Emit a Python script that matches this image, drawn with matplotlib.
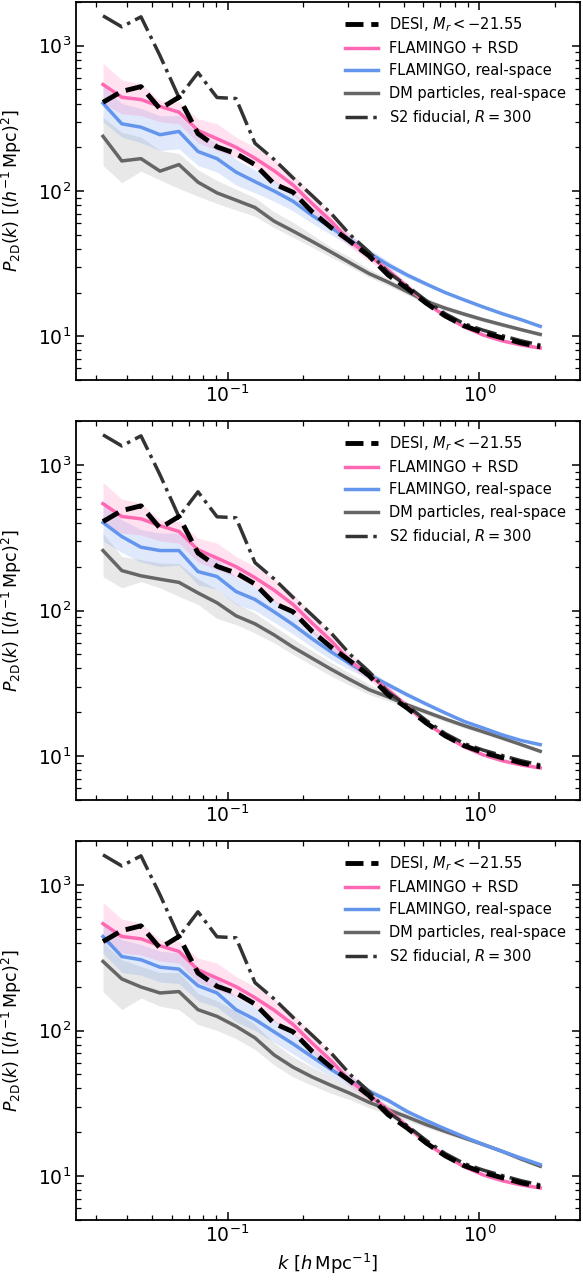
import matplotlib
matplotlib.use("Agg")
import matplotlib.pyplot as plt
import numpy as np

# k bins [h/Mpc]
k = [0.0320, 0.0380, 0.0453, 0.0539, 0.0641, 0.0763, 0.0908, 0.1080, 0.1285, 0.1530,
     0.1820, 0.2166, 0.2578, 0.3067, 0.3650, 0.4343, 0.5168, 0.6150, 0.7318, 0.8708,
     1.0362, 1.2330, 1.4672, 1.7459]

desi = [408, 485, 523, 368, 442, 248, 201, 181, 152, 112, 98, 72, 56, 45, 35.7, 26.4,
        21.4, 16.9, 13.8, 11.8, 10.6, 9.75, 9.0, 8.45]
s2 = [1607, 1349, 1581, 854, 440, 653, 440, 433, 213, 165, 123, 93, 70, 50, 38, 27.5,
      22.2, 17.6, 14.3, 12.2, 11.0, 10.1, 9.3, 8.7]
rsd = [541, 442, 426, 382, 349, 261, 229, 200, 168, 138, 110, 82, 62, 45, 36, 28.5,
       22, 16.9, 13.8, 11.6, 10.2, 9.3, 8.7, 8.3]
rsd_hi = [757, 582, 546, 420, 409, 314, 290, 235, 200, 165, 130, 95, 70, 50, 39, 30.5,
          23.2, 17.6, 14.2, 11.9, 10.4, 9.45, 8.8, 8.4]
rsd_lo = [400, 340, 330, 300, 290, 215, 190, 170, 145, 115, 95, 70, 54, 41, 33, 26.6,
          20.8, 16.2, 13.4, 11.3, 10.0, 9.15, 8.6, 8.2]

# panel 1
real_1 = [402, 290, 275, 244, 257, 187, 167, 135, 116, 100, 85, 68, 56, 46, 37.5, 31,
          26.4, 22.9, 20.0, 17.8, 15.9, 14.3, 13.0, 11.7]
real_1_hi = [530, 400, 370, 330, 330, 245, 215, 165, 140, 118, 98, 77, 62, 50, 40, 33,
             27.5, 23.6, 20.5, 18.2, 16.2, 14.5, 13.2, 11.9]
real_1_lo = [300, 235, 215, 190, 195, 150, 135, 110, 97, 85, 73, 60, 50, 42, 35, 29.5,
             25.3, 22.2, 19.5, 17.4, 15.6, 14.1, 12.8, 11.5]
dm_1 = [238, 161, 167, 137, 152, 115, 97, 86.5, 77, 62, 53, 45, 38, 32, 27, 23.6,
        20.3, 17.4, 15.6, 14.2, 13.0, 12.0, 11.1, 10.3]
dm_1_hi = [322, 254, 235, 190, 181, 140, 118, 103, 90, 72, 61, 50, 41, 35, 29, 25,
           21.5, 18.3, 16.3, 14.8, 13.5, 12.4, 11.4, 10.6]
dm_1_lo = [150, 114, 137, 119, 104, 92, 82, 74, 67, 56, 48, 41, 35, 30, 25.5, 22.3,
           19.3, 16.6, 15.0, 13.7, 12.6, 11.6, 10.8, 10.0]

# panel 2
real_2 = [402, 322, 272, 258, 258, 185, 171, 135, 119, 98, 80, 64, 52, 43, 36.2, 30.9,
          26.4, 22.8, 19.8, 17.3, 15.6, 14.0, 12.8, 12.0]
real_2_hi = [530, 420, 360, 340, 340, 245, 225, 170, 145, 118, 95, 74, 59, 47, 38.5, 32.2,
             27.3, 23.4, 20.2, 17.6, 15.8, 14.2, 12.9, 12.1]
real_2_lo = [300, 250, 215, 200, 205, 150, 140, 110, 100, 83, 69, 56, 46, 39, 34, 29.6,
             25.5, 22.2, 19.4, 17.0, 15.4, 13.8, 12.7, 11.9]
dm_2 = [258, 188, 173, 164, 156, 132, 113, 92, 81, 68, 56, 47, 39.5, 33.5, 28.6, 25.5,
        22.5, 20.1, 18.0, 16.2, 14.7, 13.3, 12.0, 10.8]
dm_2_hi = [340, 235, 223, 212, 210, 165, 140, 112, 96, 78, 64, 53, 44, 37, 31, 27.2,
           23.6, 21.0, 18.7, 16.8, 15.2, 13.7, 12.3, 11.1]
dm_2_lo = [171, 143, 158, 143, 125, 110, 88, 80, 70, 60, 50, 42, 35.5, 30.5, 26.5, 24,
           21.4, 19.3, 17.3, 15.6, 14.2, 12.9, 11.7, 10.5]

# panel 3
real_3 = [442, 322, 306, 272, 264, 203, 181, 139, 119, 98, 81, 66, 54, 45, 38.2, 33.1,
          27.8, 24.1, 21.1, 18.6, 16.5, 14.8, 13.3, 12.0]
real_3_hi = [560, 420, 390, 350, 340, 260, 230, 170, 145, 118, 96, 76, 61, 49, 40.5, 34.5,
             28.7, 24.7, 21.5, 18.9, 16.7, 15.0, 13.4, 12.1]
real_3_lo = [340, 250, 240, 215, 210, 160, 145, 115, 100, 83, 69, 57, 48, 41, 36, 31.7,
             26.9, 23.5, 20.7, 18.3, 16.3, 14.6, 13.2, 11.9]
dm_3 = [298, 226, 199, 181, 185, 139, 125, 107, 89, 68, 56, 48, 42, 37, 32.1, 28.6,
        25.5, 22.6, 20.3, 18.3, 16.5, 14.8, 13.1, 11.7]
dm_3_hi = [400, 306, 275, 250, 250, 180, 160, 135, 110, 82, 66, 56, 48, 41, 35, 31,
           27, 23.6, 21.1, 18.9, 17.0, 15.2, 13.5, 12.0]
dm_3_lo = [185, 139, 167, 147, 139, 110, 100, 88, 74, 58, 48, 42, 37, 33.5, 29.5, 26.5,
           24, 21.6, 19.5, 17.7, 16.0, 14.4, 12.7, 11.4]

panels = [
    (real_1, real_1_lo, real_1_hi, dm_1, dm_1_lo, dm_1_hi),
    (real_2, real_2_lo, real_2_hi, dm_2, dm_2_lo, dm_2_hi),
    (real_3, real_3_lo, real_3_hi, dm_3, dm_3_lo, dm_3_hi),
]

labels = [r"DESI, $M_r < -21.55$", "FLAMINGO + RSD", "FLAMINGO, real-space",
          "DM particles, real-space", r"S2 fiducial, $R = 300$"]

PINK = "#ff69b4"
BLUE = "#6495ed"
GRAY = "#666666"

W, H = 583, 1280
fig = plt.figure(figsize=(W / 100, H / 100), dpi=100)

left = 76 / W
width = (579.5 - 76) / W
tops = [2, 421, 841]
bots = [380, 800, 1220]

for p, (real, rlo, rhi, dm, dlo, dhi) in enumerate(panels):
    ax = fig.add_axes([left, 1 - bots[p] / H, width, (bots[p] - tops[p]) / H])
    ax.fill_between(k, dlo, dhi, color="gray", alpha=0.18, lw=0)
    ax.fill_between(k, rlo, rhi, color=BLUE, alpha=0.2, lw=0)
    ax.fill_between(k, rsd_lo, rsd_hi, color=PINK, alpha=0.2, lw=0)
    h_dm, = ax.plot(k, dm, color=GRAY, lw=2.5)
    h_real, = ax.plot(k, real, color=BLUE, lw=2.5)
    h_rsd, = ax.plot(k, rsd, color=PINK, lw=2.5)
    h_s2, = ax.plot(k, s2, color="#333333", lw=2.5, ls="-.")
    h_desi, = ax.plot(k, desi, color="black", lw=3.5, ls="--")
    ax.set_xscale("log")
    ax.set_yscale("log")
    ax.set_xlim(0.025, 2.5)
    ax.set_ylim(5, 2000)
    ax.tick_params(which="both", direction="in", top=True, right=True,
                   labelsize=13.5)
    ax.tick_params(which="major", length=6, width=1.1)
    ax.tick_params(which="minor", length=3.5, width=0.9)
    for s in ax.spines.values():
        s.set_linewidth(1.3)
    ax.set_ylabel(r"$P_{\rm 2D}(k)\ [(h^{-1}\,{\rm Mpc})^2]$", fontsize=12.5)
    ax.yaxis.set_label_coords(-0.104, 0.5)
    ax.legend([h_desi, h_rsd, h_real, h_dm, h_s2], labels, loc="upper right",
              frameon=False, fontsize=10.5, handlelength=2.3, handletextpad=0.75,
              labelspacing=0.5)
    if p == 2:
        ax.set_xlabel(r"$k\ [h\,{\rm Mpc}^{-1}]$", fontsize=13)

fig.savefig("out.png", dpi=100)
